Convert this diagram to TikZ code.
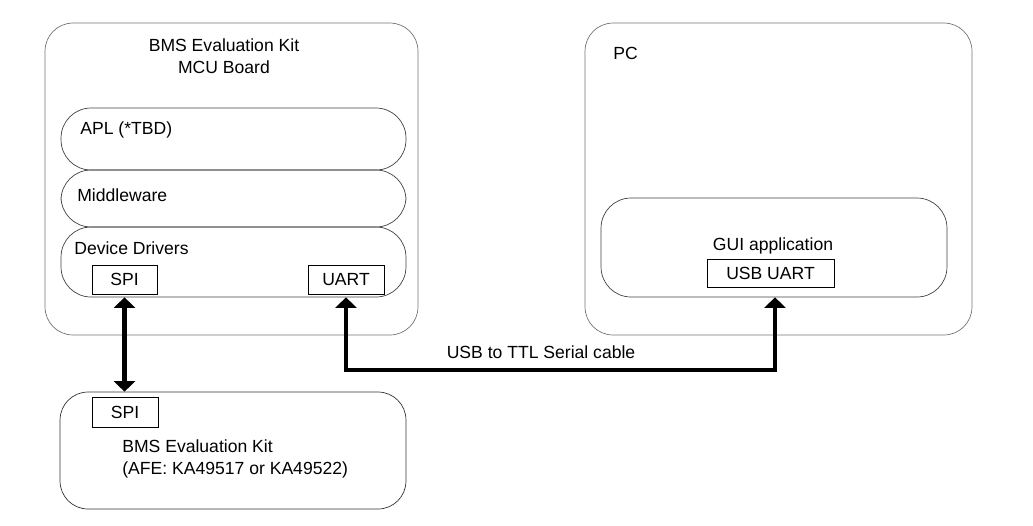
\documentclass[tikz,border=0pt]{standalone}
\usepackage{fontspec}
\setmainfont{Liberation Sans}
\usepackage{tikz}
\usetikzlibrary{arrows.meta}

\tikzset{
	board/.style={draw=black!55, rounded corners=0.56cm, inner sep=0pt},
	layer/.style={draw=black!75, rounded corners=0.6cm, inner sep=0pt, minimum width=6.9cm},
	port/.style={draw, inner sep=0pt},
	link/.style={line width=2.8pt, {Triangle[length=6pt,width=12pt]}-{Triangle[length=6pt,width=12pt]}}
}

\begin{document}
\begin{tikzpicture}[x=0.02cm, y=-0.02cm, font=\fontsize{10}{12.5}\selectfont]
\useasboundingbox (0,0) rectangle (1033,525);

% boards
\node[board, minimum width=7.46cm, minimum height=6.24cm] (mcu) at (231.5,179) {};
\node[board, minimum width=7.74cm, minimum height=6.24cm] (pc) at (778.5,179) {};
\node[board, draw=black!80, minimum width=6.92cm, minimum height=2.34cm] (kit) at (233,450.5) {};

\node[align=center] (mcutitle) at (224,56) {BMS Evaluation Kit\\MCU Board};
\node[anchor=west, inner sep=0pt] (pctitle) at (613,53) {PC};
\node[anchor=west, align=left, inner sep=0pt] (kittitle) at (122,459) {BMS Evaluation Kit\\(AFE: KA49517 or KA49522)};

% software layers
\node[layer, minimum height=1.24cm] (apl) at (233.5,139) {};
\node[layer, minimum height=1.14cm] (mid) at (233.5,198.5) {};
\node[layer, minimum height=1.4cm] (drv) at (233.5,262) {};
\node[layer, minimum width=6.92cm, minimum height=1.98cm] (gui) at (774,247.5) {};

\node[anchor=west, inner sep=0pt] (apltext) at (80,130) {APL (*TBD)};
\node[anchor=west, inner sep=0pt] (midtext) at (77,195) {Middleware};
\node[anchor=west, inner sep=0pt] (drvtext) at (74,248) {Device Drivers};
\node[inner sep=0pt] (guitext) at (773,246) {GUI application};

% ports
\node[port, minimum width=1.3cm, minimum height=0.58cm] (spi) at (124.5,279.5) {SPI};
\node[port, minimum width=1.52cm, minimum height=0.58cm] (uart) at (346,279.5) {UART};
\node[port, minimum width=2.54cm, minimum height=0.56cm] (usb) at (770.5,273) {USB UART};
\node[port, minimum width=1.32cm, minimum height=0.6cm] (spib) at (125,412) {SPI};

% links
\draw[link] (spi |- drv.south) -- (spi |- kit.north);
\coordinate (cable) at (775,370);
\draw[link] (uart |- drv.south) |- (cable) -- (cable |- gui.south);
\node (cabletext) at (541,352) {USB to TTL Serial cable};

\end{tikzpicture}
\end{document}
